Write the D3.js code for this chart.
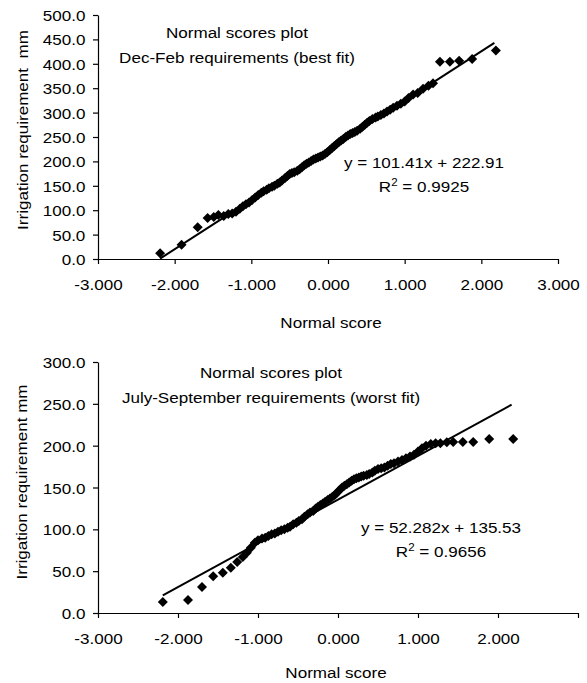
<!DOCTYPE html>
<html>
<head>
<meta charset="utf-8">
<script src="https://cdn.jsdelivr.net/npm/d3@7"></script>
<style>
  body { margin: 0; background: #fff; }
  text { font-family: "Liberation Sans", Arial, sans-serif; font-size: 15.5px; fill: #000; white-space: pre; }
</style>
</head>
<body>
<script>
// Dec-Feb requirements (best fit)
const topScores = [-2.19,-1.91,-1.70,-1.57,-1.49,-1.43,-1.36,-1.30,-1.25,-1.20,-1.15,-1.11,-1.07,-1.03,-0.99,-0.95,-0.91,-0.87,-0.84,-0.80,-0.77,-0.73,-0.70,-0.66,-0.63,-0.60,-0.56,-0.53,-0.50,-0.47,-0.44,-0.40,-0.37,-0.34,-0.31,-0.28,-0.25,-0.22,-0.19,-0.16,-0.13,-0.10,-0.07,-0.04,-0.01,0.02,0.05,0.08,0.11,0.14,0.17,0.20,0.23,0.26,0.29,0.32,0.35,0.38,0.42,0.45,0.48,0.51,0.54,0.58,0.62,0.65,0.69,0.73,0.77,0.81,0.85,0.90,0.95,1.00,1.05,1.11,1.17,1.24,1.31,1.37,1.46,1.59,1.71,1.88,2.19];
const topValues = [12,29,65,84,86,90,88,92,93,97,103,108,112,116,121,126,131,136,139,142,145,148,150,154,157,161,166,170,174,176,178,181,184,188,192,195,198,201,204,206,208,210,212,215,219,223,227,231,235,239,243,246,250,253,256,258,260,263,267,271,275,279,283,287,290,292,295,298,302,306,310,314,318,323,330,337,340,349,355,360,404,404,406,410,427];
const topFit = { slope: 101.41, intercept: 222.91, r2: "0.9925" };

// July-September requirements (worst fit)
const botScores = [-2.19,-1.875,-1.70,-1.56,-1.44,-1.34,-1.26,-1.19,-1.14,-1.09,-1.04,-1.00,-0.95,-0.91,-0.87,-0.83,-0.79,-0.75,-0.71,-0.67,-0.63,-0.60,-0.56,-0.52,-0.49,-0.45,-0.42,-0.38,-0.35,-0.31,-0.28,-0.25,-0.22,-0.19,-0.16,-0.13,-0.10,-0.07,-0.04,-0.01,0.02,0.05,0.08,0.11,0.14,0.17,0.20,0.23,0.26,0.29,0.32,0.36,0.39,0.43,0.46,0.50,0.54,0.58,0.62,0.66,0.70,0.75,0.80,0.85,0.90,0.95,1.00,1.05,1.10,1.16,1.22,1.28,1.36,1.44,1.56,1.69,1.89,2.19];
const botValues = [13,15.5,31,44,48,54,61,67,72,78,84,87,89,90,92,94,95,97,99,100,102,103,106,108,110,112,115,118,120,122,125,127,129,131,133,135,137,139,141,144,147,150,152,154,156,158,160,161,162,163,164,165,166,168,170,172,173,174,176,178,179,181,183,185,187,189,193,197,200,202,203,203,204,204.5,204.5,204.5,208,208];
const botFit = { slope: 52.282, intercept: 135.53, r2: "0.9656" };

const xTicks = [-3, -2, -1, 0, 1, 2, 3];
const topYTicks = [0, 50, 100, 150, 200, 250, 300, 350, 400, 450, 500];
const botYTicks = [0, 50, 100, 150, 200, 250, 300];

const svg = d3.select("body").append("svg")
    .attr("width", 587)
    .attr("height", 683);

const fmtX = d => d3.format(".3f")(d).replace("\u2212", "-");
const fmtY = d => d3.format(".1f")(d);

// text slightly wider than Liberation Sans, like the original GDI Arial
function addText(x, y, str, anchor, rot) {
    return svg.append("text")
        .attr("transform", `translate(${x},${y})` + (rot ? ` rotate(${rot})` : "") + " scale(1.1,1)")
        .attr("text-anchor", anchor || "middle")
        .text(str);
}

function drawPanel(cfg) {
    const x = d3.scaleLinear().domain([-3, 3]).range(cfg.xRange);
    const y = d3.scaleLinear().domain(cfg.yDomain).range(cfg.yRange);

    const xAxis = svg.append("g")
        .attr("transform", `translate(0,${cfg.yRange[0]})`)
        .call(d3.axisBottom(x).tickValues(xTicks).tickSize(5).tickSizeOuter(0)
            .tickFormat(d => (cfg.hideLastX && d === 3) ? "" : fmtX(d)));
    xAxis.selectAll("text").attr("y", 31).attr("dy", 0).attr("transform", "scale(1.1,1)");

    const yAxis = svg.append("g")
        .attr("transform", `translate(${cfg.xRange[0]},0)`)
        .call(d3.axisLeft(y).tickValues(cfg.yTicks).tickSize(5).tickPadding(6).tickSizeOuter(0).tickFormat(fmtY));
    yAxis.selectAll("text").attr("x", -11.5).attr("dy", "0.36em").attr("transform", "scale(1.1,1)");

    svg.selectAll(".domain, .tick line").attr("stroke", "#000").attr("stroke-width", 1.2);
    svg.selectAll(".tick text").style("font-family", '"Liberation Sans", Arial, sans-serif').style("font-size", "15.5px").attr("fill", "#000");

    const pts = cfg.scores.map((s, i) => ({ s: s, v: cfg.values[i] }));
    svg.append("g").selectAll("path")
        .data(pts)
        .enter().append("path")
        .attr("d", "M0,-5L5,0L0,5L-5,0Z")
        .attr("transform", d => `translate(${x(d.s)},${y(d.v)})`)
        .attr("fill", "#000");

    // trendline from the fit equation over the data extent
    const ext = d3.extent(cfg.scores);
    ext[1] = ext[1] - 0.02;
    svg.append("path")
        .datum(ext)
        .attr("d", d3.line().x(d => x(d)).y(d => y(cfg.fit.slope * d + cfg.fit.intercept)))
        .attr("stroke", "#000")
        .attr("stroke-width", 2)
        .attr("fill", "none");

    addText(cfg.titleX, cfg.titleY, "Normal scores plot");
    addText(cfg.titleX, cfg.titleY + 24.5, cfg.subtitle);

    addText(cfg.eqX, cfg.eqY, `y = ${cfg.fit.slope}x + ${cfg.fit.intercept}`);
    const r = addText(cfg.eqX, cfg.eqY + 23.5, "R");
    r.append("tspan").attr("dy", -6).style("font-size", "10.5px").text("2");
    r.append("tspan").attr("dy", 6).text(" = " + cfg.fit.r2);

    addText(cfg.xLabelX, cfg.xLabelY, "Normal score");
    addText(cfg.yLabelX, cfg.yLabelY, cfg.yLabel, "middle", -90);
}

drawPanel({
    scores: topScores, values: topValues, fit: topFit,
    xRange: [98, 558], yDomain: [0, 500], yRange: [259, 15], yTicks: topYTicks,
    subtitle: "Dec-Feb requirements (best fit)", titleX: 237, titleY: 38,
    eqX: 424, eqY: 168,
    xLabelX: 331, xLabelY: 328,
    yLabel: "Irrigation requirement  mm", yLabelX: 28, yLabelY: 130,
    hideLastX: false
});

drawPanel({
    scores: botScores, values: botValues, fit: botFit,
    xRange: [98, 578], yDomain: [0, 300], yRange: [613, 362], yTicks: botYTicks,
    subtitle: "July-September requirements (worst fit)", titleX: 271, titleY: 378,
    eqX: 441, eqY: 533,
    xLabelX: 336, xLabelY: 678,
    yLabel: "Irrigation requirement mm", yLabelX: 27, yLabelY: 482,
    hideLastX: true
});
</script>
</body>
</html>
